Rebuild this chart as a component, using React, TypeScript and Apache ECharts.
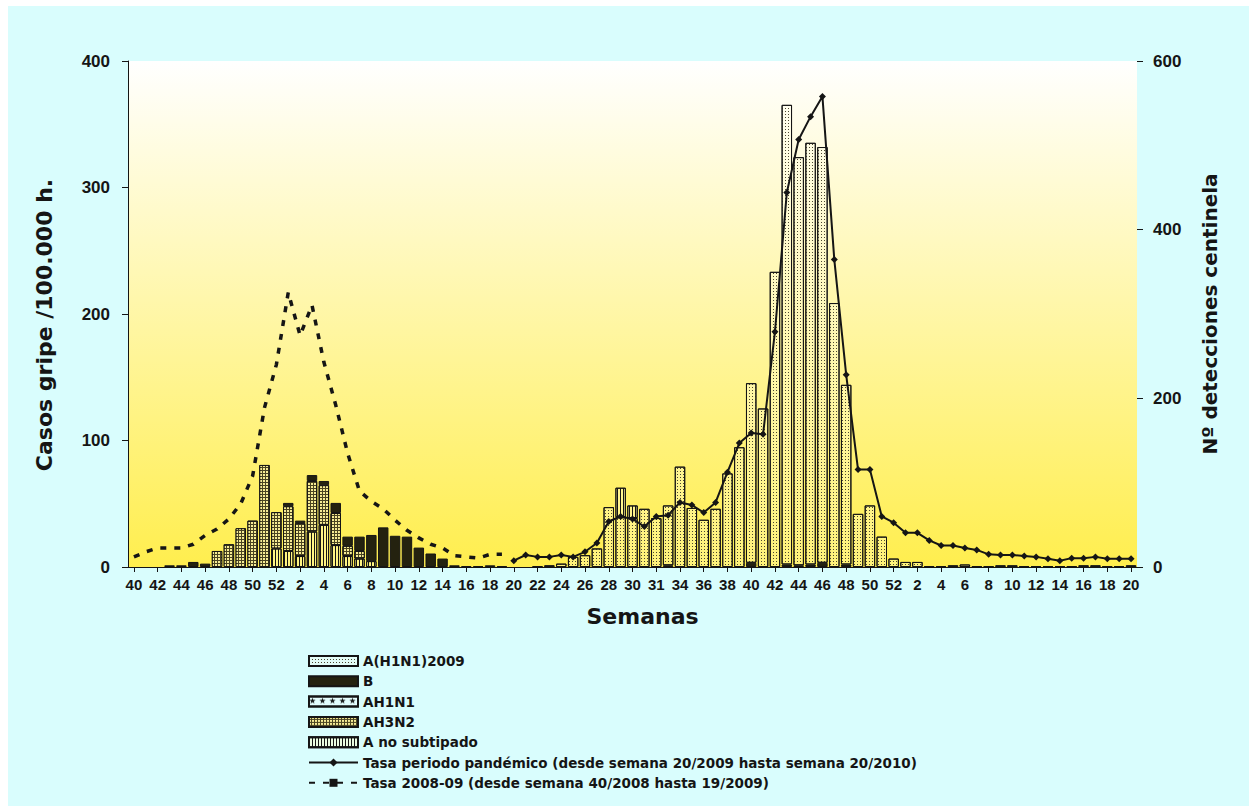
import React, { useEffect, useRef } from 'react';
import * as echarts from 'echarts';

// 85 weeks: 40/2008 .. 52/2008, 1/2009 .. 52/2009, 1/2010 .. 20/2010
const weeks = [
  '40','41','42','43','44','45','46','47','48','49','50','51','52',
  '1','2','3','4','5','6','7','8','9','10','11','12','13','14','15','16','17','18','19',
  '20','21','22','23','24','25','26','27','28','29','30','31','32','33','34','35','36','37','38','39','40','41','42','43','44','45','46','47','48','49','50','51','52',
  '1','2','3','4','5','6','7','8','9','10','11','12','13','14','15','16','17','18','19','20',
];

// labels printed under every second week (as printed in the original)
const xTickLabels = [
  '40','42','44','46','48','50','52',
  '2','4','6','8','10','12','14','16','18','20','22','24','26','28','30','31','34','36','38','40','42','44','46','48','50','52',
  '2','4','6','8','10','12','14','16','18','20',
];

// Nº detecciones centinela (right axis)
const aNoSubtipado = [
  0,0,0,0,0,0,0,0,0,0,0,0,22,
  19,13,42,50,26,13,10,7,0,0,0,0,0,0,0,0,0,0,0,
  0,0,0,0,0,0,0,0,0,35,15,0,0,0,0,0,0,0,0,0,0,0,0,0,0,0,0,0,0,0,0,0,0,
  0,0,0,0,0,0,0,0,0,0,0,0,0,0,0,0,0,0,0,0,
];
const aH3N2 = [
  0,0,0,0,0,0,0,19,27,46,55,121,43,
  53,39,60,47,38,12,9,0,0,0,0,0,0,0,0,0,0,0,0,
  0,0,0,0,0,0,0,0,0,0,0,0,0,0,0,0,0,0,0,0,0,0,0,0,0,0,0,0,0,0,0,0,0,
  0,0,0,0,0,0,0,0,0,0,0,0,0,0,0,0,0,0,0,0,
];
const aH1N1 = [
  0,0,0,0,0,0,0,0,0,0,0,0,0,
  0,0,0,0,0,0,0,0,0,0,0,0,0,0,0,0,0,0,0,
  0,0,0,0,0,0,0,0,0,0,0,0,0,0,0,0,0,0,0,0,0,0,0,0,0,0,0,0,0,0,0,0,0,
  0,0,0,0,0,0,0,0,0,0,0,0,0,0,0,0,0,0,0,0,
];
const gripeB = [
  0,0,0,2,2,6,4,0,0,0,0,0,0,
  4,3,7,5,12,11,17,31,47,37,36,23,16,10,2,1,1,2,1,
  0,0,0,0,0,0,0,0,0,0,0,0,0,2,0,0,0,0,0,0,5,0,0,3,2,3,5,0,3,0,0,0,0,
  0,0,0,0,0,0,0,0,0,0,0,0,0,0,0,0,0,0,0,0,
];
const aH1N1_2009 = [
  0,0,0,0,0,0,0,0,0,0,0,0,0,
  0,0,0,0,0,0,0,0,0,0,0,0,0,0,0,0,0,0,0,
  0,0,1,2,4,12,14,22,71,59,58,69,58,71,119,70,56,69,111,142,213,188,350,545,484,500,493,313,213,63,73,36,10,
  6,6,1,1,2,3,1,1,2,2,1,1,1,1,1,2,2,1,1,2,
];

// Casos gripe /100.000 h. (left axis)
const tasa0809 = [
  8,12,15,15,15,18,25,30,38,50,72,126,160,
  217,183,207,162,128,90,60,52,46,37,29,23,18,15,9,8,7,10,10,
  null,null,null,null,null,null,null,null,null,null,null,null,null,null,null,null,null,null,null,null,null,null,null,null,null,null,null,null,null,null,null,null,null,
  null,null,null,null,null,null,null,null,null,null,null,null,null,null,null,null,null,null,null,null,
];
const tasaPandemica = [
  null,null,null,null,null,null,null,null,null,null,null,null,null,
  null,null,null,null,null,null,null,null,null,null,null,null,null,null,null,null,null,null,null,
  5,9.5,8,8,9.5,8,12,19,36,40,38,32,40,41,51,49,43,51,75,98,106,105,186,296,338,356,372,243,152,77,77,40,35,
  27,27,21,17,17,15,13.5,10,9.5,9.5,8.7,8,6.5,5,7,7,8,6.5,6.5,6.5,
];

const SEASON2_START = 32; // week 20/2009
const PAND = 'Tasa periodo pandémico (desde semana 20/2009 hasta semana 20/2010)';
const T0809 = 'Tasa 2008-09 (desde semana 40/2008 hasta 19/2009)';

const nz = (arr: number[]) => arr.map((v) => (v === 0 ? null : v));
const maskSeason = (arr: number[], first: boolean) =>
  arr.map((v, i) => ((i < SEASON2_START) === first && v !== 0 ? v : null));

const INK = '#151515';
const labelFont = 'Liberation Sans, Arial, sans-serif';
const titleFont = 'DejaVu Sans, sans-serif';

const stripeStyle = {
  color: 'rgba(255,250,190,0.45)',
  borderColor: INK,
  borderWidth: 1,
  decal: {
    symbol: 'rect', symbolSize: 1, symbolKeepAspect: false, color: INK,
    dashArrayX: [1, 2], dashArrayY: [4, 0],
  },
};
const checkStyle = {
  color: '#4a4422',
  borderColor: INK,
  borderWidth: 1,
  decal: {
    symbol: 'rect', symbolSize: 1, symbolKeepAspect: false, color: '#f6ec96',
    dashArrayX: [2, 1], dashArrayY: [2, 1],
  },
};
const starStyle = {
  color: 'rgba(255,255,255,0.3)',
  borderColor: INK,
  borderWidth: 1,
  decal: {
    symbol: 'path://M5,0L6.2,3.6L10,3.6L7,5.9L8.1,9.5L5,7.3L1.9,9.5L3,5.9L0,3.6L3.8,3.6Z',
    symbolSize: 0.9, color: INK, dashArrayX: [7, 3], dashArrayY: [8, 2],
  },
};
const dotStyle = {
  color: 'rgba(255,255,235,0.28)',
  borderColor: INK,
  borderWidth: 1,
  decal: {
    symbol: 'rect', symbolSize: 1, symbolKeepAspect: false, color: '#4a4630',
    dashArrayX: [1, 2], dashArrayY: [1, 2],
  },
};
const solidB = { color: '#24220f', borderColor: INK, borderWidth: 1 };

const barBase = {
  type: 'bar',
  stack: 'det',
  yAxisIndex: 1,
  barCategoryGap: '12%',
  emphasis: { disabled: true },
};

export default function App() {
  const ref = useRef<HTMLDivElement>(null);

  useEffect(() => {
    const chart = echarts.init(ref.current!, null, { renderer: 'svg' });
    const option: any = {
      animation: false,
      backgroundColor: '#D9FDFD',
      textStyle: { fontFamily: labelFont, color: INK },
      grid: {
        left: 120, top: 55, width: 1009, height: 506,
        show: true, borderWidth: 0, outerBoundsMode: 'none',
        backgroundColor: {
          type: 'linear', x: 0, y: 0, x2: 0, y2: 1,
          colorStops: [
            { offset: 0, color: '#FFFFFF' },
            { offset: 1, color: '#FFEE4E' },
          ],
        },
      },
      legend: {
        orient: 'vertical',
        left: 295,
        top: 643,
        itemWidth: 49,
        itemHeight: 10,
        itemGap: 6.3,
        selectedMode: false,
        textStyle: { fontFamily: titleFont, fontWeight: 'bold', fontSize: 13.5, lineHeight: 14, color: INK },
        data: [
          { name: 'A(H1N1)2009', icon: 'rect' },
          { name: 'B', icon: 'rect' },
          { name: 'AH1N1', icon: 'rect' },
          { name: 'AH3N2', icon: 'rect' },
          { name: 'A no subtipado', icon: 'rect' },
          { name: PAND },
          { name: T0809 },
        ],
      },
      xAxis: {
        type: 'category',
        data: weeks,
        boundaryGap: true,
        axisLine: { show: true, lineStyle: { color: INK, width: 1 } },
        axisTick: { show: true, interval: 1, alignWithLabel: true, length: 5, lineStyle: { color: INK } },
        axisLabel: {
          interval: 1, margin: 10, fontSize: 15, fontWeight: 'bold', color: INK, fontFamily: labelFont,
          formatter: (_v: string, i: number) => xTickLabels[i / 2] ?? '',
        },
        splitLine: { show: false },
        name: 'Semanas',
        nameLocation: 'middle',
        nameGap: 38,
        nameTextStyle: { fontFamily: titleFont, fontWeight: 'bold', fontSize: 22, color: INK, padding: [0, 0, 0, 20] },
      },
      yAxis: [
        {
          type: 'value', min: 0, max: 400, interval: 100, position: 'left',
          axisLine: { show: true, lineStyle: { color: INK, width: 1 } },
          axisTick: { show: true, length: 6, lineStyle: { color: INK } },
          splitLine: { show: false },
          axisLabel: { margin: 18, fontSize: 17, fontWeight: 'bold', color: INK, fontFamily: labelFont },
          name: 'Casos gripe /100.000 h.',
          nameLocation: 'middle',
          nameGap: 73,
          nameTextStyle: { fontFamily: titleFont, fontWeight: 'bold', fontSize: 22, color: INK, padding: [0, 22, 0, 0] },
        },
        {
          type: 'value', min: 0, max: 600, interval: 200, position: 'right',
          axisLine: { show: false },
          axisTick: { show: true, length: 6, lineStyle: { color: INK } },
          splitLine: { show: false },
          axisLabel: { margin: 16, fontSize: 17, fontWeight: 'bold', color: INK, fontFamily: labelFont },
          name: 'Nº detecciones centinela',
          nameLocation: 'middle',
          nameGap: 63,
          nameTextStyle: { fontFamily: titleFont, fontWeight: 'bold', fontSize: 20, color: INK },
        },
      ],
      series: [
        { ...barBase, name: 'A no subtipado', data: maskSeason(aNoSubtipado, true), itemStyle: stripeStyle },
        { ...barBase, name: 'AH3N2', data: nz(aH3N2), itemStyle: checkStyle },
        { ...barBase, name: 'AH1N1', data: nz(aH1N1), itemStyle: starStyle },
        { ...barBase, name: 'B', data: nz(gripeB), itemStyle: solidB },
        { ...barBase, name: 'A(H1N1)2009', data: nz(aH1N1_2009), itemStyle: dotStyle },
        { ...barBase, name: 'A no subtipado', data: maskSeason(aNoSubtipado, false), itemStyle: stripeStyle },
        {
          type: 'line', name: PAND, yAxisIndex: 0, data: tasaPandemica,
          symbol: 'diamond', symbolSize: 7, showSymbol: true,
          lineStyle: { color: INK, width: 2 },
          itemStyle: { color: INK },
          emphasis: { disabled: true },
          z: 5,
        },
        {
          type: 'line', name: T0809, yAxisIndex: 0, data: tasa0809,
          symbol: 'rect', symbolSize: 5, showSymbol: false,
          lineStyle: { color: INK, width: 3.5, type: [6, 8] },
          itemStyle: { color: INK },
          emphasis: { disabled: true },
          z: 5,
        },
      ],
    };
    chart.setOption(option);
    return () => chart.dispose();
  }, []);

  return (
    <div
      ref={ref}
      style={{ position: 'absolute', left: 8, top: 6, width: 1241, height: 800 }}
    />
  );
}
